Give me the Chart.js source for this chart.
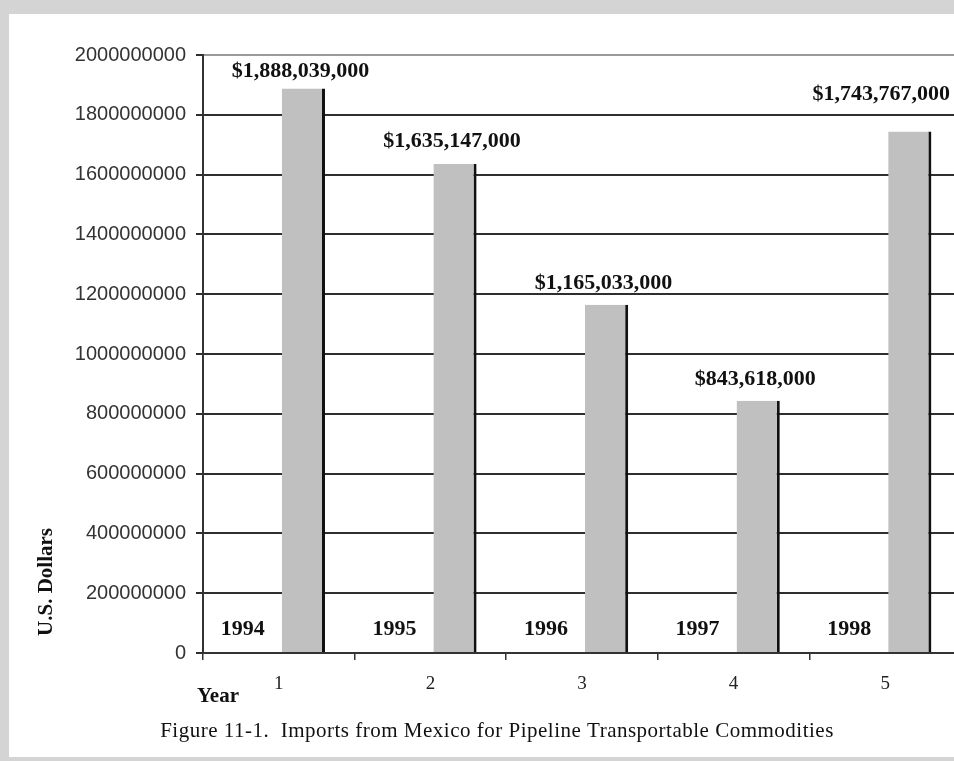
<!DOCTYPE html>
<html>
<head>
<meta charset="utf-8">
<script src="https://cdn.jsdelivr.net/npm/chart.js@4.4.0/dist/chart.umd.min.js"></script>
<style>
    html, body { margin: 0; padding: 0; width: 954px; height: 761px; overflow: hidden; background: #d4d4d4; }
    #frame { position: absolute; left: 9px; top: 14px; width: 960px; height: 743px; background: #fff; }
    #myChart { position: absolute; left: 0; top: 0; }
</style>
</head>
<body>
<div id="frame"></div>
<canvas id="myChart" width="961" height="761"></canvas>
<script>
// chart data
const categories = ['1', '2', '3', '4', '5'];
const years = [1994, 1995, 1996, 1997, 1998];
const imports = [1888039000, 1635147000, 1165033000, 843618000, 1743767000];
const yMin = 0;
const yMax = 2000000000;
const yStep = 200000000;

const serif = '"Liberation Serif", "Times New Roman", serif';
const sans = '"Liberation Sans", Arial, sans-serif';

function money(v) {
    return '$' + v.toLocaleString('en-US');
}

// labels drawn on top of the bars + axis titles + caption
const labelPlugin = {
    id: 'labels',
    afterDatasetsDraw(chart, args, opts) {
        const c = chart.ctx;
        const xs = chart.scales.x;
        const ys = chart.scales.y;
        const bars = chart.getDatasetMeta(1).data;
        c.save();
        c.fillStyle = '#111';
        c.textBaseline = 'middle';
        c.font = 'bold 22px ' + serif;

        for (let i = 0; i < years.length; i++) {
            c.textAlign = 'center';
            c.fillText(String(years[i]), xs.getPixelForValue(i) - 36, ys.getPixelForValue(0) - 24);
        }

        for (let i = 0; i < bars.length; i++) {
            const txt = money(imports[i]);
            const w = c.measureText(txt).width;
            let x = bars[i].x - 3;
            if (x + w / 2 > 950) x = 950 - w / 2;
            c.textAlign = 'center';
            c.fillText(txt, x, bars[i].y - opts.lift[i]);
        }

        c.font = 'bold 21px ' + serif;
        c.textAlign = 'left';
        c.fillText('Year', 197, 697);

        c.save();
        c.translate(47, 582);
        c.rotate(-Math.PI / 2);
        c.textAlign = 'center';
        c.fillText('U.S. Dollars', 0, 0);
        c.restore();

        c.font = '21px ' + serif;
        c.letterSpacing = '0.5px';
        c.textAlign = 'center';
        c.fillText('Figure 11-1.  Imports from Mexico for Pipeline Transportable Commodities', 497, 731);
        c.restore();
    }
};

const ctx = document.getElementById('myChart');
const chart = new Chart(ctx, {
    type: 'bar',
    data: {
        labels: categories,
        datasets: [{
            label: 'Year',
            data: years,
            backgroundColor: 'rgba(0,0,0,0)'
        }, {
            label: 'U.S. Dollars',
            data: imports,
            backgroundColor: '#c0c0c0',
            borderColor: '#111',
            borderWidth: { top: 0, left: 0, bottom: 0, right: 3 },
            borderSkipped: false
        }]
    },
    options: {
        responsive: false,
        animation: false,
        devicePixelRatio: 1,
        categoryPercentage: 0.649,
        barPercentage: 0.878,
        layout: { padding: { top: 55, bottom: 68, left: 0, right: 0 } },
        plugins: {
            legend: { display: false },
            tooltip: { enabled: false },
            labels: { lift: [17, 23, 21, 21, 37] }
        },
        scales: {
            x: {
                grid: { drawOnChartArea: false, tickLength: 7, color: '#333', lineWidth: 1.5 },
                border: { color: '#333', width: 2 },
                ticks: { font: { family: serif, size: 19 }, color: '#222', padding: 13 },
                afterFit(s) { s.height = 40; }
            },
            y: {
                min: yMin,
                max: yMax,
                grid: {
                    tickLength: 7,
                    lineWidth: 2,
                    color: (c) => c.tick && c.tick.value === yMax ? '#9a9a9a' : '#2e2e2e',
                    tickColor: '#2e2e2e'
                },
                border: { color: '#333', width: 2 },
                ticks: {
                    stepSize: yStep,
                    padding: 10,
                    color: '#333',
                    font: { family: sans, size: 20 },
                    callback: (v) => String(v)
                },
                afterFit(s) { s.width = 203; }
            }
        }
    },
    plugins: [labelPlugin]
});
</script>
</body>
</html>
